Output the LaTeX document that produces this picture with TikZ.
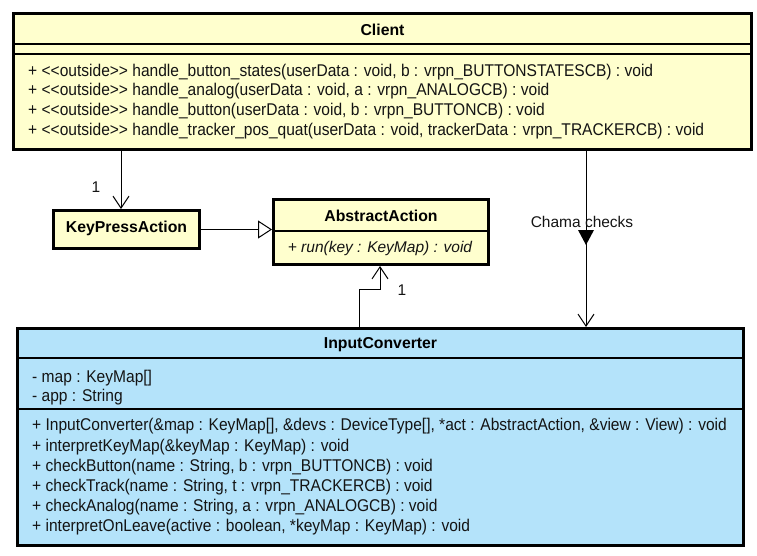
\documentclass[tikz,border=0pt]{standalone}
\usepackage{fontspec}
\setmainfont{Liberation Sans}[Ligatures=TeXOff]
\newfontfamily\memberfont{Liberation Sans}[Ligatures=TeXOff, FakeStretch=0.915]
\usetikzlibrary{arrows.meta}
\definecolor{clientfill}{RGB}{255,255,206}
\definecolor{icfill}{RGB}{180,227,250}
\definecolor{txt}{RGB}{20,20,20}
\tikzset{
  umlbox/.style={draw=black, line width=3pt, inner sep=0pt},
  sepline/.style={draw=black, line width=1.3pt},
  title/.style={font=\fontsize{15.8}{18}\selectfont\bfseries, inner sep=0pt, text=black},
  member/.style={font=\memberfont\fontsize{17}{20}\selectfont, inner sep=0pt, anchor=west, text=txt},
  lbl/.style={font=\fontsize{15.5}{18}\selectfont, inner sep=0pt, text=txt},
  conn/.style={draw=black, line width=1pt},
  assoc/.style={conn, -{Straight Barb[length=12pt,width=16pt]}},
  gen/.style={conn, -{Triangle[open,length=14pt,width=18pt,fill=white]}},
}
\begin{document}
\begin{tikzpicture}[x=1pt,y=-1pt]
\useasboundingbox (0,0) rectangle (757,555);
% Client
\node[umlbox, fill=clientfill, minimum width=738pt, minimum height=136pt] (client) at (382.5,81.5) {};
\node[title] (clientT) at (382.5,30) {Client};
\draw[sepline] (client.west |- 0,44) -- (client.east |- 0,44);
\draw[sepline] (client.west |- 0,54) -- (client.east |- 0,54);
\node[member] (c1) at (28,72) {+ <<outside>> handle\_button\_states(userData : void, b : vrpn\_BUTTONSTATESCB) : void};
\node[member] (c2) at (28,91) {+ <<outside>> handle\_analog(userData : void, a : vrpn\_ANALOGCB) : void};
\node[member] (c3) at (28,111) {+ <<outside>> handle\_button(userData : void, b : vrpn\_BUTTONCB) : void};
\node[member] (c4) at (28,131) {+ <<outside>> handle\_tracker\_pos\_quat(userData : void, trackerData : vrpn\_TRACKERCB) : void};
% KeyPressAction
\node[umlbox, fill=clientfill, minimum width=146pt, minimum height=38pt] (kp) at (126.5,229.5) {};
\node[title] (kpT) at (126.5,228) {KeyPressAction};
% AbstractAction
\node[umlbox, fill=clientfill, minimum width=215pt, minimum height=65pt] (aa) at (381,232) {};
\node[title] (aaT) at (381,216) {AbstractAction};
\draw[sepline] (aa.west |- 0,231) -- (aa.east |- 0,231);
\node[lbl, font=\fontsize{15.5}{18}\selectfont\itshape] (aaM) at (380,248) {+ run(key : KeyMap) : void};
% InputConverter
\node[umlbox, fill=icfill, minimum width=726pt, minimum height=217pt] (ic) at (380.5,437) {};
\node[title] (icT) at (380.5,345) {InputConverter};
\draw[sepline] (ic.west |- 0,358) -- (ic.east |- 0,358);
\draw[sepline] (ic.west |- 0,409) -- (ic.east |- 0,409);
\node[member] (a1) at (32,378) {- map : KeyMap[]};
\node[member] (a2) at (32,397) {- app : String};
\node[member] (m1) at (32,426) {+ InputConverter(\&map : KeyMap[], \&devs : DeviceType[], *act : AbstractAction, \&view : View) : void};
\node[member] (m2) at (32,447) {+ interpretKeyMap(\&keyMap : KeyMap) : void};
\node[member] (m3) at (32,467) {+ checkButton(name : String, b : vrpn\_BUTTONCB) : void};
\node[member] (m4) at (32,487) {+ checkTrack(name : String, t : vrpn\_TRACKERCB) : void};
\node[member] (m5) at (32,507) {+ checkAnalog(name : String, a : vrpn\_ANALOGCB) : void};
\node[member] (m6) at (32,527) {+ interpretOnLeave(active : boolean, *keyMap : KeyMap) : void};
% connectors
\coordinate (kpIn) at (121,209);
\draw[assoc] (kpIn |- client.south) -- (kpIn);
\node[lbl] (one1) at (96,187) {1};
\draw[gen] (kp.east) -- (aa.west |- kp.east);
\coordinate (bend) at (359,289);
\coordinate (aaIn) at (380,266);
\draw[assoc] (bend |- ic.north) -- (bend) -| (aaIn);
\node[lbl] (one2) at (402,290) {1};
\coordinate (icIn) at (586,327);
\draw[assoc] (icIn |- client.south) -- (icIn);
\node[lbl] (chama) at (582,222) {Chama checks};
\coordinate (tri) at (586,230);
\fill[black] (tri) ++(-8,0) -- ++(16,0) -- ++(-8,15) -- cycle;
\end{tikzpicture}
\end{document}
